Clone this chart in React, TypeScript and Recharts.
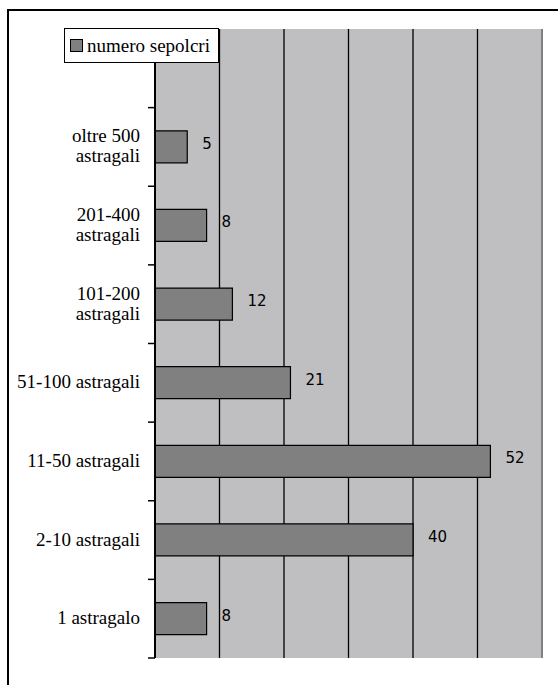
import { BarChart, Bar, XAxis, YAxis, CartesianGrid, Legend, LabelList, ReferenceLine } from 'recharts';

// categories top to bottom; the first slot is left empty (the legend sits there)
const categories = [
  '',
  'oltre 500\nastragali',
  '201-400\nastragali',
  '101-200\nastragali',
  '51-100 astragali',
  '11-50 astragali',
  '2-10 astragali',
  '1 astragalo',
];
const sepolcri: (number | null)[] = [null, 5, 8, 12, 21, 52, 40, 8];
const xTicks = [0, 10, 20, 30, 40, 50, 60];
const seriesName = 'numero sepolcri';

const data = categories.map((cat, i) => ({ cat, value: sepolcri[i] }));

const FONT = '"Liberation Serif", "Liberation Sans", sans-serif';
const FONT2 = '"DejaVu Sans", sans-serif';
const W = 558;
const H = 685;
const margin = { top: 29, right: 16, bottom: 27, left: 0 };
const band = (H - margin.top - margin.bottom) / categories.length;

// label on the left plus the small tick mark on the lower band boundary
const CategoryTick = (props: any) => {
  const { x, y, payload } = props;
  const lines = String(payload.value).split('\n').filter((s) => s.length);
  const lh = 20;
  const first = 5.5 - ((lines.length - 1) * lh) / 2;
  return (
    <g>
      <line x1={x + 8} x2={x + 15} y1={y + band / 2} y2={y + band / 2} stroke="#000" strokeWidth={1.5} />
      <text x={x} y={y} textAnchor="end" style={{ fontFamily: FONT }} fontSize={19} fill="#000">
        {lines.map((l, i) => (
          <tspan key={i} x={x} dy={i === 0 ? first : lh}>
            {l}
          </tspan>
        ))}
      </text>
    </g>
  );
};

const ValueLabel = (props: any) => {
  const { x, y, width, height, value } = props;
  if (value === null || value === undefined) return null;
  return (
    <text
      x={x + width + 15}
      y={y + height / 2 - 3}
      dominantBaseline="central"
      style={{ fontFamily: FONT2 }}
      fontSize={15}
      fill="#000"
    >
      {value}
    </text>
  );
};

const LegendBox = () => (
  <div
    style={{
      boxSizing: 'border-box',
      width: 155,
      height: 35,
      border: '1px solid #000',
      background: '#fff',
      display: 'flex',
      alignItems: 'center',
      fontFamily: FONT,
      fontSize: 19,
      color: '#000',
    }}
  >
    <span
      style={{
        display: 'inline-block',
        boxSizing: 'border-box',
        width: 13,
        height: 13,
        marginLeft: 5,
        marginRight: 4,
        border: '1px solid #000',
        background: '#808080',
      }}
    />
    <span>{seriesName}</span>
  </div>
);

export default function App() {
  return (
    <div style={{ position: 'absolute', left: 0, top: 0, width: W, height: H, overflow: 'hidden', background: '#fff' }}>
      {/* outer frame, cut off at the right and bottom like the source image */}
      <div
        style={{
          position: 'absolute',
          left: 7,
          top: 9,
          width: 700,
          height: 800,
          border: '2px solid #000',
        }}
      />
      <div style={{ position: 'absolute', left: 0, top: 0 }}>
        <BarChart width={W} height={H} data={data} layout="vertical" margin={margin} barCategoryGap="29.5%">
          <CartesianGrid horizontal={false} fill="#bfbfc1" stroke="#000" strokeWidth={1.3} />
          <XAxis
            type="number"
            domain={[0, 60]}
            ticks={xTicks}
            height={0}
            tick={{ fill: 'none', fontSize: 1 }}
            tickLine={false}
            axisLine={{ stroke: '#808080', strokeWidth: 2 }}
          />
          <YAxis
            type="category"
            dataKey="cat"
            width={155}
            tickSize={7}
            tickMargin={8}
            tickLine={false}
            interval={0}
            axisLine={{ stroke: '#000', strokeWidth: 2 }}
            tick={<CategoryTick />}
          />
          <ReferenceLine x={60} stroke="#808080" strokeWidth={2} />
          <Legend
            layout="vertical"
            align="center"
            verticalAlign="middle"
            wrapperStyle={{ left: 64, top: 28, width: 'auto' }}
            content={<LegendBox />}
          />
          <Bar dataKey="value" name={seriesName} fill="#808080" stroke="#000" strokeWidth={1.2} isAnimationActive={false}>
            <LabelList dataKey="value" content={<ValueLabel />} />
          </Bar>
        </BarChart>
      </div>
    </div>
  );
}
